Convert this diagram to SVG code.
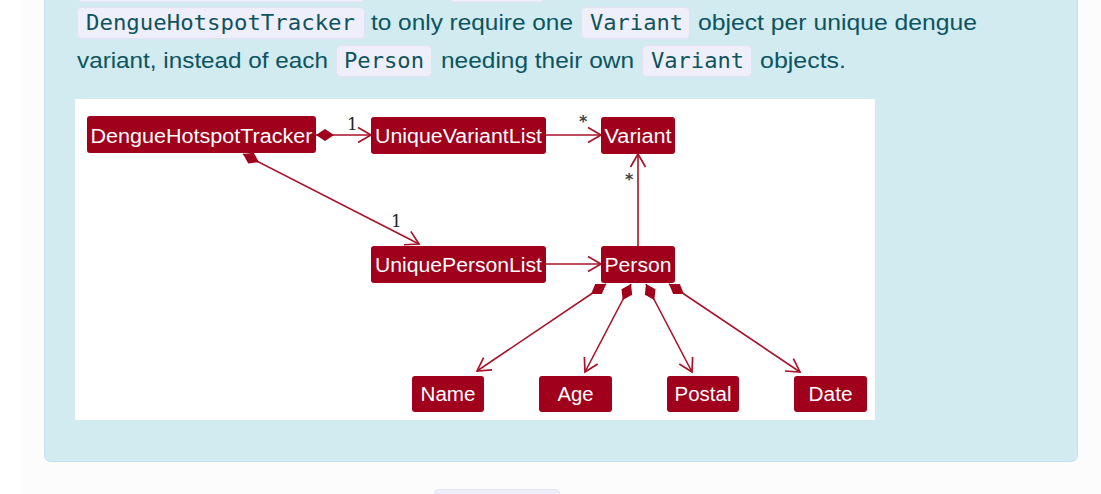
<svg xmlns="http://www.w3.org/2000/svg" width="1101" height="494" viewBox="0 0 1101 494">
<style>
.body{font-family:"Liberation Sans",Arial,sans-serif;font-size:22px;fill:#0c5460}
.code{font-family:"DejaVu Sans Mono",monospace;font-size:21px;fill:#0c5460}
.cbox{fill:#efeffb;stroke:#e2e2f3;stroke-width:1}
.node rect{fill:#a0001b}
.node text{font-family:"Liberation Sans",Arial,sans-serif;font-size:20px;fill:#ffffff;text-anchor:middle}
.edge{stroke:#a8132a;stroke-width:1.6;fill:none}
.lbl{font-family:"DejaVu Serif","Liberation Serif",serif;font-size:17px;fill:#222}
.star{font-family:"DejaVu Sans",sans-serif;font-size:16px;font-weight:bold;fill:#444}
</style>
<defs>
<marker id="arrow" markerUnits="userSpaceOnUse" markerWidth="20" markerHeight="20" viewBox="-15 -10 17 20" refX="0" refY="0" orient="auto">
<path d="M-13,-7.5 L0,0 L-13,7.5" fill="none" stroke="#a8132a" stroke-width="1.7"/>
</marker>
<marker id="diamond" markerUnits="userSpaceOnUse" markerWidth="20" markerHeight="14" viewBox="0 -7 20 14" refX="0" refY="0" orient="auto">
<polygon points="0,0 9,-6 18,0 9,6" fill="#a0001b"/>
</marker>
</defs>
<rect x="0" y="0" width="1101" height="494" fill="#fcfcfc"/>
<rect x="0" y="0" width="22" height="494" fill="#ffffff"/>
<rect x="44.5" y="-10" width="1033" height="471.5" rx="6" fill="#d1ebf0" stroke="#bfe3ea" stroke-width="1"/>
<rect x="434.5" y="489.5" width="125" height="14" rx="4" class="cbox"/>
<g id="paragraph">
<rect x="77.5" y="-10" width="287" height="12" rx="4" class="cbox"/>
<rect x="449.5" y="-10" width="95" height="12" rx="4" class="cbox"/>
<rect x="77.5" y="7.5" width="287" height="31" rx="4" class="cbox"/>
<text x="86" y="30" class="code" textLength="269" lengthAdjust="spacingAndGlyphs">DengueHotspotTracker</text>
<text x="371" y="30" class="body" textLength="202" lengthAdjust="spacingAndGlyphs">to only require one</text>
<rect x="581.5" y="7.5" width="108" height="31" rx="4" class="cbox"/>
<text x="590" y="30" class="code" textLength="93" lengthAdjust="spacingAndGlyphs">Variant</text>
<text x="698" y="30" class="body" textLength="279" lengthAdjust="spacingAndGlyphs">object per unique dengue</text>
<text x="77" y="68" class="body" textLength="251" lengthAdjust="spacingAndGlyphs">variant, instead of each</text>
<rect x="336.5" y="45.5" width="95" height="31" rx="4" class="cbox"/>
<text x="344" y="68" class="code" textLength="80" lengthAdjust="spacingAndGlyphs">Person</text>
<text x="441" y="68" class="body" textLength="193" lengthAdjust="spacingAndGlyphs">needing their own</text>
<rect x="642.5" y="45.5" width="109" height="31" rx="4" class="cbox"/>
<text x="651" y="68" class="code" textLength="93" lengthAdjust="spacingAndGlyphs">Variant</text>
<text x="760" y="68" class="body" textLength="86" lengthAdjust="spacingAndGlyphs">objects.</text>
</g>
<rect x="75" y="99" width="800" height="321" fill="#ffffff"/>
<g id="connectors">
<path class="edge" d="M316,135 L371,135" marker-start="url(#diamond)" marker-end="url(#arrow)"/>
<path class="edge" d="M546,135 L601,135" marker-end="url(#arrow)"/>
<path class="edge" d="M638,246 L638,154" marker-end="url(#arrow)"/>
<path class="edge" d="M243,154 L419,244" marker-start="url(#diamond)" marker-end="url(#arrow)"/>
<path class="edge" d="M546,264 L601,264" marker-end="url(#arrow)"/>
<path class="edge" d="M606,284 L477,371" marker-start="url(#diamond)" marker-end="url(#arrow)"/>
<path class="edge" d="M631,284 L585,372" marker-start="url(#diamond)" marker-end="url(#arrow)"/>
<path class="edge" d="M646,284 L692,372" marker-start="url(#diamond)" marker-end="url(#arrow)"/>
<path class="edge" d="M669,284 L800,372" marker-start="url(#diamond)" marker-end="url(#arrow)"/>
<text x="347" y="130" class="lbl">1</text>
<text x="579" y="127" class="star">*</text>
<text x="625" y="185" class="star">*</text>
<text x="391" y="227" class="lbl">1</text>
</g>
<g id="DengueHotspotTracker" class="node"><rect x="87" y="116" width="229" height="37" rx="3"/><text x="201.5" y="142.5" textLength="222" lengthAdjust="spacingAndGlyphs">DengueHotspotTracker</text></g>
<g id="UniqueVariantList" class="node"><rect x="371" y="117" width="175" height="37" rx="3"/><text x="458.5" y="143" textLength="167" lengthAdjust="spacingAndGlyphs">UniqueVariantList</text></g>
<g id="Variant" class="node"><rect x="601" y="117" width="74" height="37" rx="3"/><text x="638" y="143" textLength="67" lengthAdjust="spacingAndGlyphs">Variant</text></g>
<g id="UniquePersonList" class="node"><rect x="371" y="246" width="175" height="37" rx="3"/><text x="458.5" y="272" textLength="167" lengthAdjust="spacingAndGlyphs">UniquePersonList</text></g>
<g id="Person" class="node"><rect x="601" y="246" width="74" height="37" rx="3"/><text x="638" y="272" textLength="67" lengthAdjust="spacingAndGlyphs">Person</text></g>
<g id="Name" class="node"><rect x="412" y="376" width="72" height="36" rx="3"/><text x="448" y="401" textLength="55" lengthAdjust="spacingAndGlyphs">Name</text></g>
<g id="Age" class="node"><rect x="539" y="376" width="73" height="36" rx="3"/><text x="575.5" y="401" textLength="36" lengthAdjust="spacingAndGlyphs">Age</text></g>
<g id="Postal" class="node"><rect x="667" y="376" width="72" height="36" rx="3"/><text x="703" y="401" textLength="57" lengthAdjust="spacingAndGlyphs">Postal</text></g>
<g id="Date" class="node"><rect x="794" y="376" width="73" height="36" rx="3"/><text x="830.5" y="401" textLength="44" lengthAdjust="spacingAndGlyphs">Date</text></g>
</svg>
